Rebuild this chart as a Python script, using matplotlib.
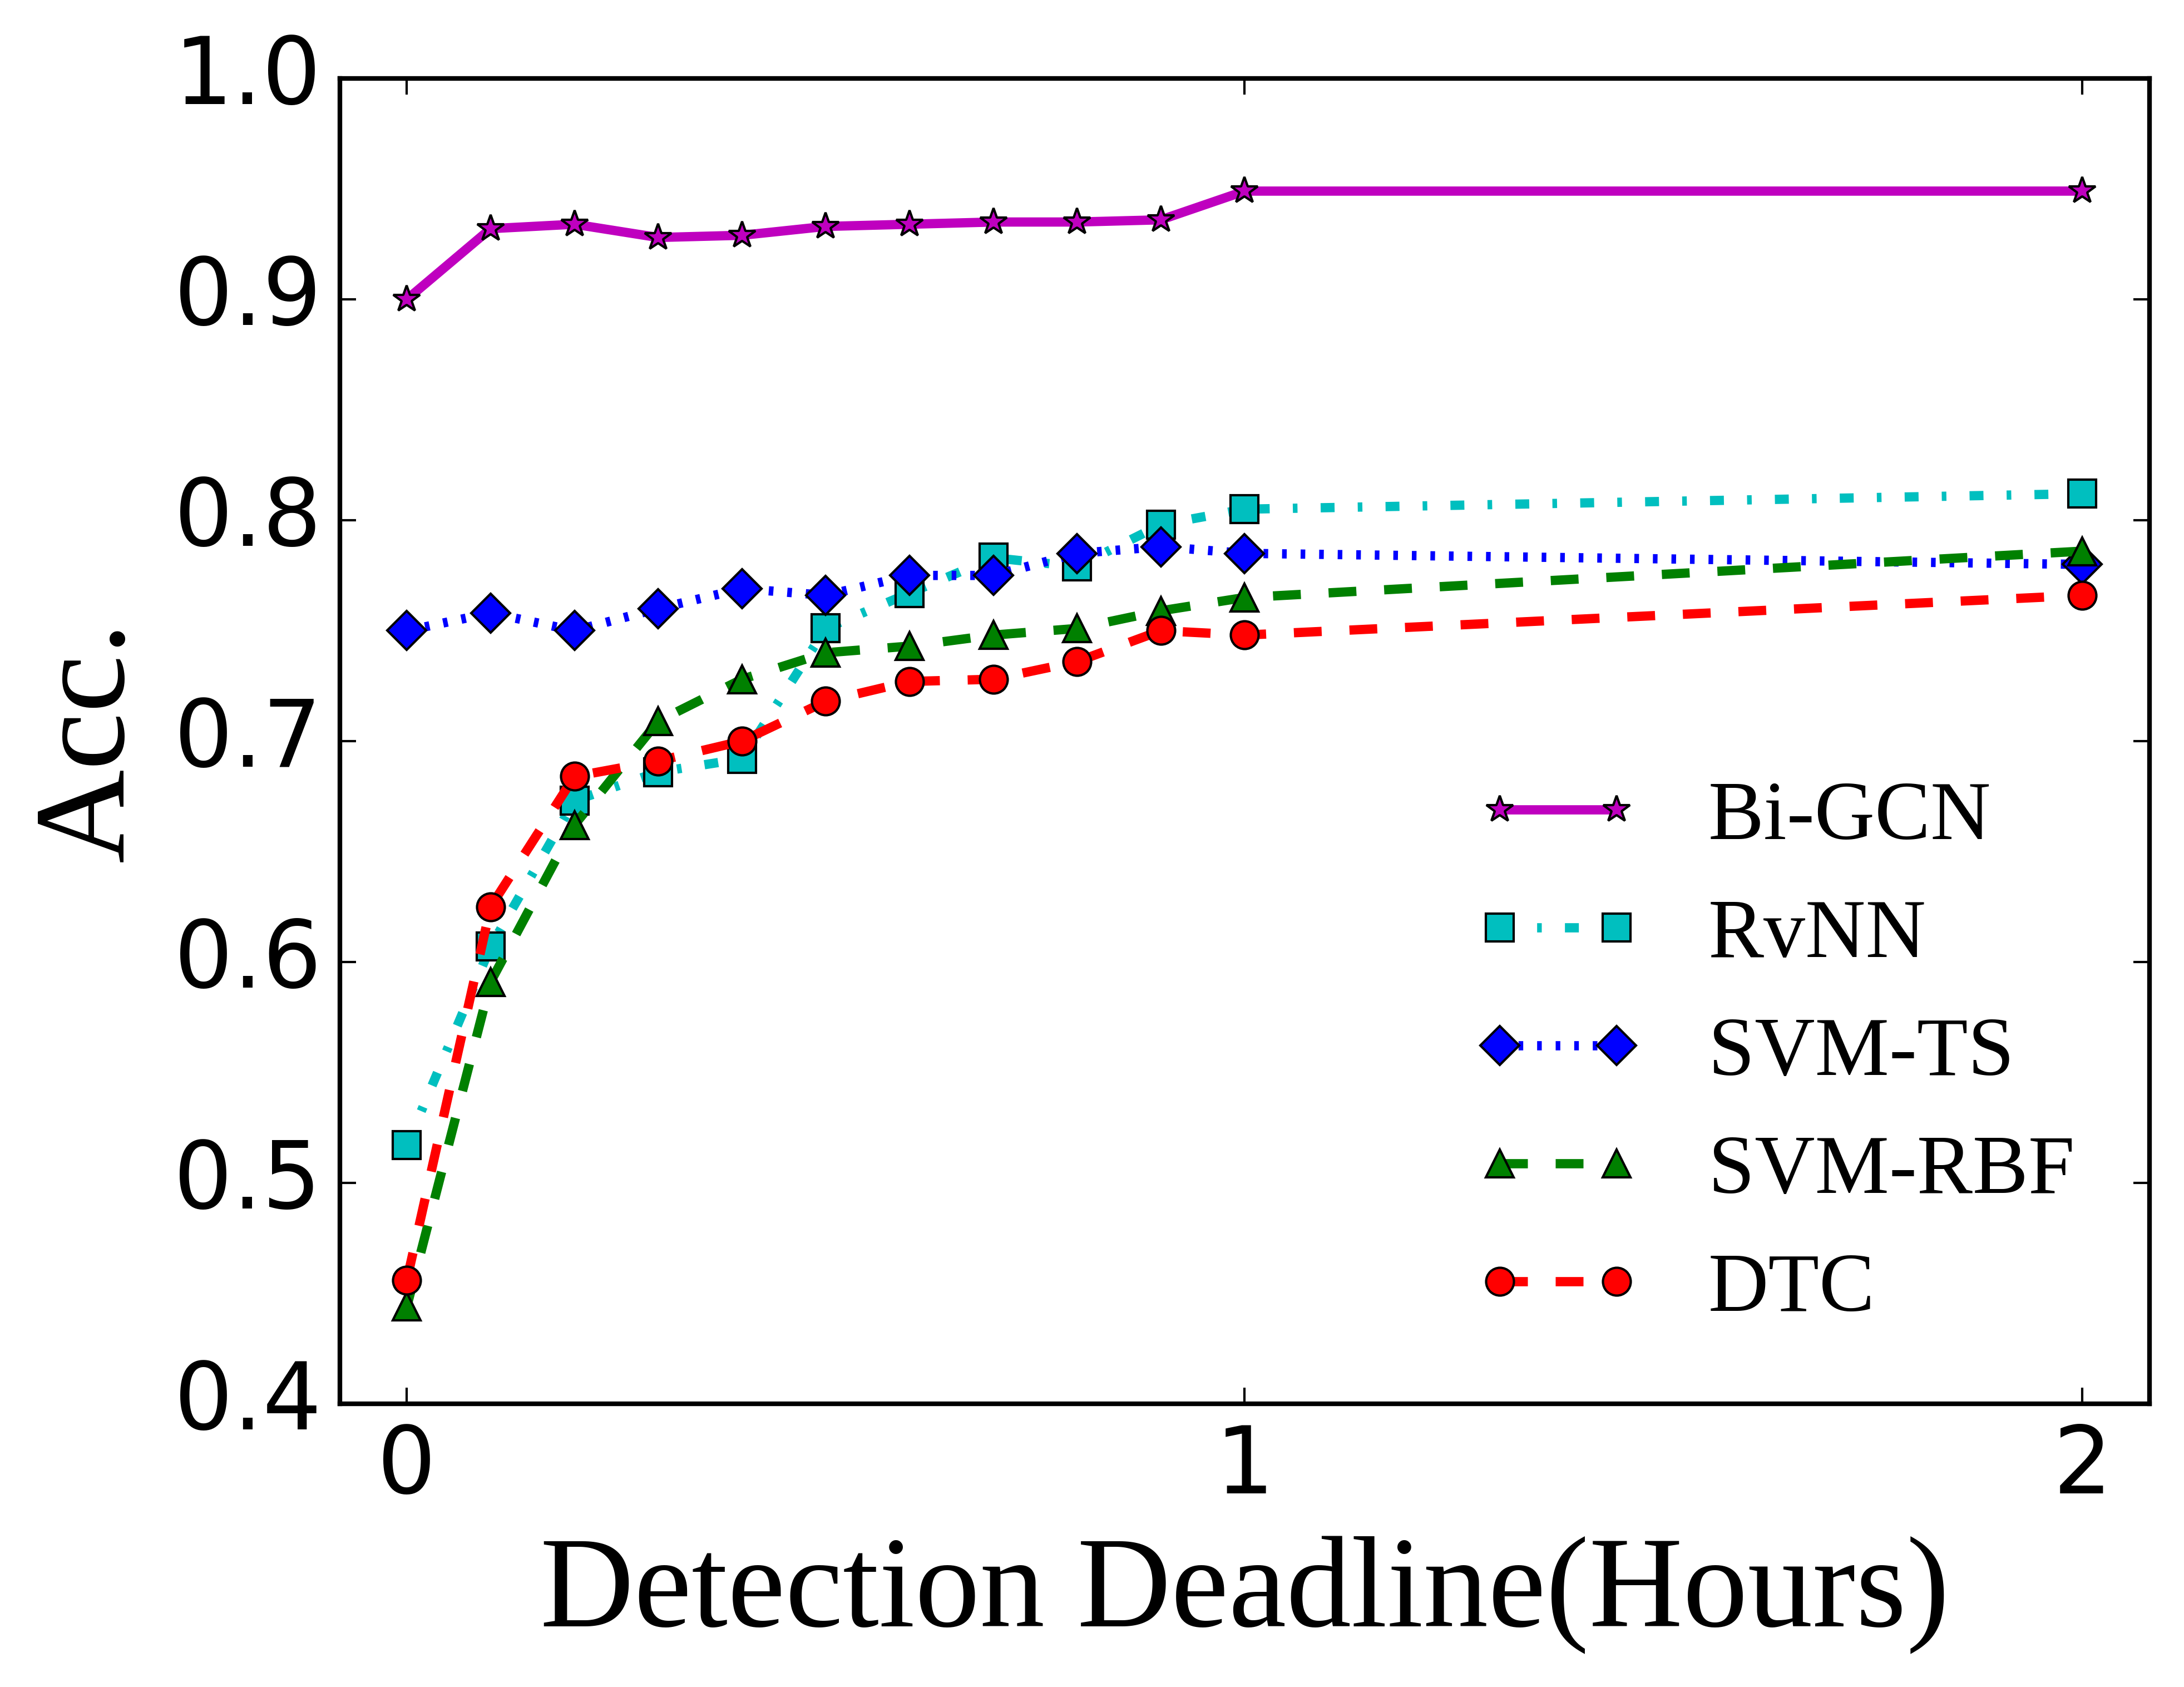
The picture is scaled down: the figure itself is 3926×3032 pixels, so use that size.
import matplotlib

matplotlib.use('Agg')
import matplotlib.pyplot as plt

plt.style.use('classic')

deadline = [0, 0.1, 0.2, 0.3, 0.4, 0.5, 0.6, 0.7, 0.8, 0.9, 1, 2]
bigcn = [0.900, 0.932, 0.934, 0.928, 0.929, 0.933, 0.934, 0.935, 0.935, 0.936, 0.949, 0.949]
rvnn = [0.517, 0.607, 0.673, 0.686, 0.692, 0.751, 0.767, 0.783, 0.779, 0.798, 0.805, 0.812]
svm_ts = [0.750, 0.758, 0.750, 0.760, 0.769, 0.766, 0.775, 0.775, 0.785, 0.788, 0.785, 0.780]
svm_rbf = [0.444, 0.591, 0.662, 0.709, 0.728, 0.740, 0.743, 0.748, 0.751, 0.759, 0.765, 0.786]
dtc = [0.456, 0.625, 0.684, 0.691, 0.700, 0.718, 0.727, 0.728, 0.736, 0.750, 0.748, 0.766]

serif = ['Liberation Serif', 'DejaVu Serif']

fig = plt.figure(figsize=(3926 / 600, 3032 / 600), facecolor='w')
ax = fig.add_axes([0.1556, 0.1679, 0.9842 - 0.1556, 0.9535 - 0.1679])

ax.plot(deadline, bigcn, 'm-*', lw=2, ms=6, mew=0.5, label='Bi-GCN')
ax.plot(deadline, rvnn, 'c-.s', lw=2, ms=6, mew=0.5, label='RvNN')
ax.plot(deadline, svm_ts, 'b:D', lw=2, ms=6, mew=0.5, label='SVM-TS')
ax.plot(deadline, svm_rbf, 'g--^', lw=2, ms=6, mew=0.5, label='SVM-RBF')
ax.plot(deadline, dtc, 'r--o', lw=2, ms=6, mew=0.5, label='DTC')

ax.set_xlim(-0.08, 2.08)
ax.set_ylim(0.4, 1.0)
ax.set_xticks([0, 1, 2])
ax.set_yticks([0.4, 0.5, 0.6, 0.7, 0.8, 0.9, 1.0])
ax.tick_params(axis='both', which='major', labelsize=20, length=3.5, width=0.5, pad=4)

ax.set_xlabel('Detection Deadline(Hours)', fontsize=28, family=serif)
ax.set_ylabel('Acc.', fontsize=28, family=serif)

leg = ax.legend(loc='lower right', frameon=False, numpoints=2,
                prop={'family': serif, 'size': 18}, labelspacing=0.5)

plt.savefig('out.png', dpi=600, facecolor='w')
